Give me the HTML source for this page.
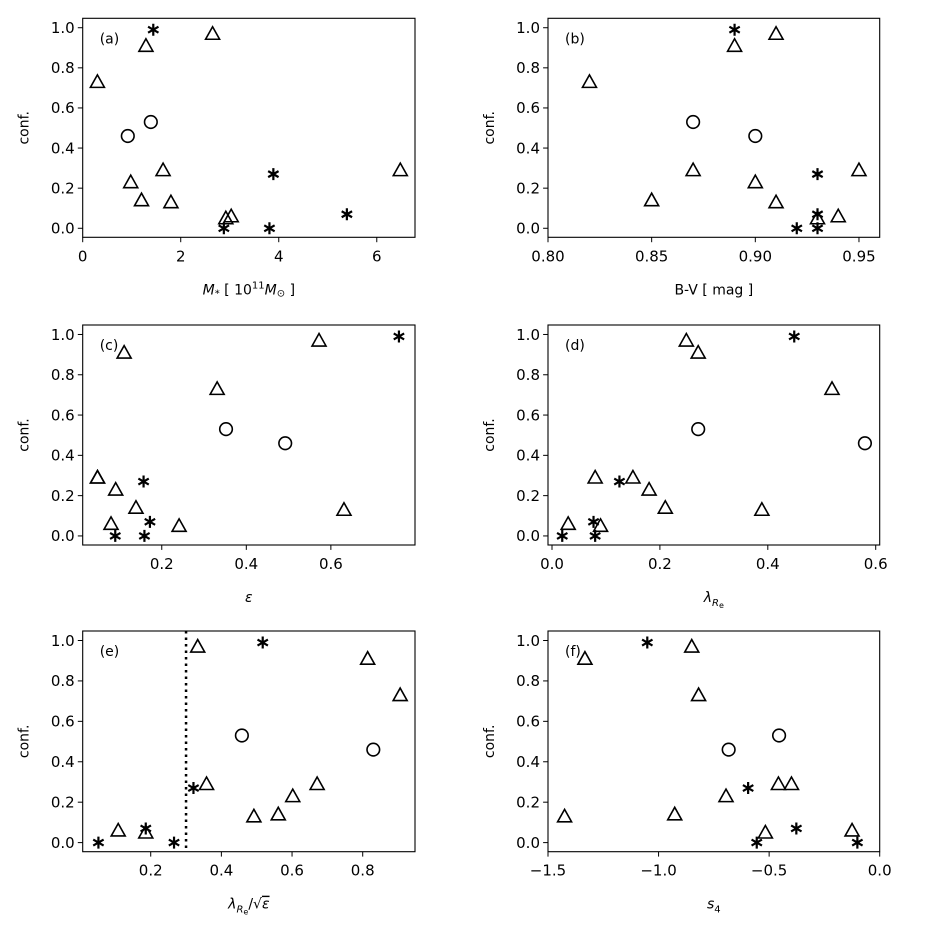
<!DOCTYPE html>
<html><head><meta charset="utf-8"><style>
html,body{margin:0;padding:0;background:#fff;}
svg{display:block;}
text{font-family:"DejaVu Sans","Liberation Sans",sans-serif;fill:#000;}
</style></head><body>
<svg id="fig" width="926" height="926" viewBox="0 0 926 926" xmlns="http://www.w3.org/2000/svg"></svg>
<script>
// ---- data (conf. values per galaxy, x per panel) ----
const triConf = [0.97, 0.91, 0.73, 0.29, 0.29, 0.23, 0.14, 0.13, 0.06, 0.05];
const cirConf = [0.53, 0.46];
const astConf = [0.99, 0.27, 0.07, 0.0, 0.0];

const aTri = [2.65, 1.29, 0.30, 1.64, 6.48, 0.98, 1.20, 1.80, 3.03, 2.92];
const aCir = [1.39, 0.92];
const aAst = [1.44, 3.89, 5.39, 2.88, 3.81];

const bTri = [0.91, 0.89, 0.82, 0.87, 0.95, 0.90, 0.85, 0.91, 0.94, 0.93];
const bCir = [0.87, 0.90];
const bAst = [0.89, 0.93, 0.93, 0.93, 0.92];

const cTri = [0.572, 0.111, 0.331, 0.048, 0.048, 0.091, 0.139, 0.631, 0.080, 0.241];
const cCir = [0.352, 0.492];
const cAst = [0.761, 0.157, 0.172, 0.090, 0.159];

const dTri = [0.249, 0.271, 0.519, 0.080, 0.150, 0.180, 0.210, 0.389, 0.030, 0.090];
const dCir = [0.271, 0.580];
const dAst = [0.449, 0.125, 0.077, 0.080, 0.019];

const eTri = [0.333, 0.814, 0.906, 0.358, 0.671, 0.602, 0.561, 0.492, 0.108, 0.186];
const eCir = [0.458, 0.830];
const eAst = [0.517, 0.321, 0.186, 0.266, 0.052];

const fTri = [-0.850, -1.333, -0.819, -0.458, -0.399, -0.695, -0.927, -1.425, -0.125, -0.517];
const fCir = [-0.455, -0.683];
const fAst = [-1.051, -0.595, -0.377, -0.556, -0.101];

const yTicks = [0.0, 0.2, 0.4, 0.6, 0.8, 1.0];
const aTicks = [0, 2, 4, 6];
const bTicks = [0.80, 0.85, 0.90, 0.95];
const cTicks = [0.2, 0.4, 0.6];
const dTicks = [0.0, 0.2, 0.4, 0.6];
const eTicks = [0.2, 0.4, 0.6, 0.8];
const fTicks = [-1.5, -1.0, -0.5, 0.0];
const eCut = [0.3];

// ---- rendering ----
const NS = "http://www.w3.org/2000/svg";
const svg = document.getElementById('fig');
function mk(tag, attrs, parent){
  const e = document.createElementNS(NS, tag);
  for (const k in attrs) e.setAttribute(k, attrs[k]);
  (parent||svg).appendChild(e);
  return e;
}
const panels = [
  {id:'a', L:82.7, R:415, T:18.3, B:237.3, xmin:0, xmax:6.78, tri:aTri, cir:aCir, ast:aAst, ticks:aTicks, fmt:v=>v.toFixed(0), xlabel:'<tspan font-style="italic">M</tspan><tspan font-size="10" dy="2">*</tspan><tspan dy="-2"> [ 10</tspan><tspan font-size="10" dy="-6">11</tspan><tspan dy="6" font-style="italic">M</tspan><tspan font-size="10" dy="2">⊙</tspan><tspan dy="-2"> ]</tspan>'},
  {id:'b', L:548, R:879.7, T:18.3, B:237.3, xmin:0.8, xmax:0.96, tri:bTri, cir:bCir, ast:bAst, ticks:bTicks, fmt:v=>v.toFixed(2), xlabel:'B-V [ mag ]'},
  {id:'c', L:82.7, R:415, T:325, B:545, xmin:0.013, xmax:0.799, tri:cTri, cir:cCir, ast:cAst, ticks:cTicks, fmt:v=>v.toFixed(1), xlabel:'<tspan font-style="italic">ε</tspan>'},
  {id:'d', L:548, R:879.7, T:325, B:545, xmin:-0.0074, xmax:0.6074, tri:dTri, cir:dCir, ast:dAst, ticks:dTicks, fmt:v=>v.toFixed(1), xlabel:'<tspan font-style="italic">λ</tspan><tspan font-size="10" dy="4" font-style="italic">R</tspan><tspan font-size="8" dy="2">e</tspan>'},
  {id:'e', L:82.7, R:415, T:631, B:851.7, xmin:0.0075, xmax:0.948, tri:eTri, cir:eCir, ast:eAst, ticks:eTicks, fmt:v=>v.toFixed(1), xlabel:'<tspan font-style="italic">λ</tspan><tspan font-size="10" dy="4" font-style="italic">R</tspan><tspan font-size="8" dy="2">e</tspan><tspan dy="-6">/√</tspan><tspan font-style="italic" text-decoration="overline">ε</tspan>', cut:eCut},
  {id:'f', L:548, R:879.7, T:631, B:851.7, xmin:-1.5, xmax:0.0, tri:fTri, cir:fCir, ast:fAst, ticks:fTicks, fmt:v=>v.toFixed(1).replace('-','−'), xlabel:'<tspan font-style="italic">s</tspan><tspan font-size="10" dy="4">4</tspan>'}
];
const ymin = -0.045, ymax = 1.047;
panels.forEach(p=>{
  const g = mk('g', {});
  
  
  const X = v => p.L + (v - p.xmin) / (p.xmax - p.xmin) * (p.R - p.L);
  const Y = v => p.B - (v - ymin) / (ymax - ymin) * (p.B - p.T);
  yTicks.forEach(t=>{
    const y = Y(t);
    const tk = mk('line', {x1:p.L-4.9, x2:p.L, y1:y, y2:y, stroke:'#000', 'stroke-width':1}, g);
    
    
    const tl = mk('text', {x:p.L-8, y:y+5.3, 'text-anchor':'end', 'font-size':15}, g);
    tl.textContent = t.toFixed(1);
    
    
  });
  p.ticks.forEach(t=>{
    const x = X(t);
    const tk = mk('line', {x1:x, x2:x, y1:p.B, y2:p.B+4.9, stroke:'#000', 'stroke-width':1}, g);
    
    
    const tl = mk('text', {x:x, y:p.B+24, 'text-anchor':'middle', 'font-size':15}, g);
    tl.textContent = p.fmt(t);
    
    
  });
  const yl = mk('text', {x:0, y:0, 'text-anchor':'middle', 'font-size':14, transform:`translate(${p.L-54},${(p.T+p.B)/2}) rotate(-90)`}, g);
  yl.textContent = 'conf.';
  
  
  const xl = mk('text', {x:(p.L+p.R)/2, y:p.B+57, 'text-anchor':'middle', 'font-size':14}, g);
  xl.innerHTML = p.xlabel;
  
  
  const pl = mk('text', {x:p.L+17, y:p.T+25, 'font-size':14}, g);
  pl.textContent = '(' + p.id + ')';
  
  
  if (p.cut) p.cut.forEach(c=>{
    const ln = mk('line', {x1:X(c), x2:X(c), y1:p.T, y2:p.B, stroke:'#000', 'stroke-width':2.5, 'stroke-dasharray':'2.5,4'}, g);
    
    
  });
  p.tri.forEach((v,i)=>{
    const x = X(v), y = Y(triConf[i]);
    const m = mk('polygon', {points:`${x},${y-7} ${x-7},${y+5.5} ${x+7},${y+5.5}`, fill:'none', stroke:'#000', 'stroke-width':1.6}, g);
    
    
  });
  p.cir.forEach((v,i)=>{
    const m = mk('circle', {cx:X(v), cy:Y(cirConf[i]), r:6.3, fill:'none', stroke:'#000', 'stroke-width':1.6}, g);
    
    
  });
  p.ast.forEach((v,i)=>{
    const x = X(v), y = Y(astConf[i]), r = 6;
    let d = '';
    [90, 30, 150].forEach(a=>{
      const dx = r*Math.cos(a*Math.PI/180), dy = r*Math.sin(a*Math.PI/180);
      d += `M${x-dx},${y-dy}L${x+dx},${y+dy}`;
    });
    const m = mk('path', {d:d, stroke:'#000', 'stroke-width':2.2, fill:'none'}, g);
    
    
  });
  const fr = mk('rect', {x:p.L, y:p.T, width:p.R-p.L, height:p.B-p.T, fill:'none', stroke:'#000', 'stroke-width':1.1}, g);
  
  
});
</script>
</body></html>
